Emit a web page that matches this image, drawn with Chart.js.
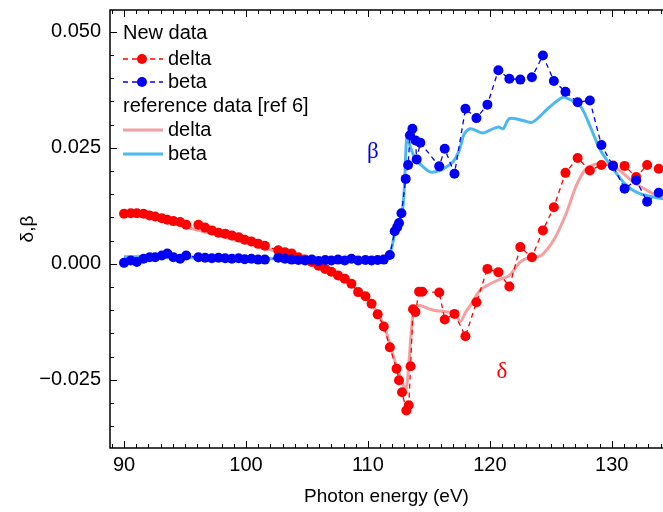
<!DOCTYPE html>
<html>
<head>
<meta charset="utf-8">
<script src="https://cdn.jsdelivr.net/npm/chart.js@4.4.1/dist/chart.umd.min.js"></script>
<style>
  html, body { margin: 0; padding: 0; background: #fff; }
</style>
</head>
<body>
<canvas id="myChart" width="663" height="512"></canvas>
<script>
// new data - delta
const eDeltaNew = [90.0, 90.55, 91.05, 91.6, 92.1, 92.55, 93.1, 93.55, 94.05, 94.6, 95.1,
  96.1, 96.65, 97.2, 97.75, 98.3, 98.85, 99.4, 99.9, 100.45, 101.0, 101.55,
  102.65, 103.2, 103.75, 104.3, 104.85, 105.4, 105.95, 106.5, 107.0, 107.55, 108.1, 108.65, 109.2, 109.8,
  110.3, 110.8, 111.3, 111.8, 112.35, 112.55, 112.8, 113.15, 113.35, 113.5, 113.7, 113.9, 114.2, 114.45,
  115.85, 116.3, 117.1, 118.0, 118.9, 119.8, 120.7, 121.6, 122.5, 123.45, 124.35, 125.25, 126.2, 127.2,
  128.2, 129.15, 130.1, 131.05, 132.0, 132.9, 133.85];
const deltaNew = [0.0108, 0.0109, 0.0109, 0.0108, 0.0104, 0.0102, 0.0098, 0.0095, 0.0092, 0.0090, 0.0084,
  0.0084, 0.0078, 0.0072, 0.0067, 0.0065, 0.0061, 0.0057, 0.0052, 0.0048, 0.0043, 0.0039,
  0.0029, 0.0025, 0.0022, 0.0014, 0.0009, 0.0004, -0.0004, -0.0011, -0.0017, -0.0025, -0.0032, -0.0043, -0.0061, -0.0070,
  -0.0086, -0.0109, -0.0135, -0.0180, -0.0226, -0.0251, -0.0277, -0.0316, -0.0305, -0.0221, -0.0098, -0.0104, -0.0060, -0.0060,
  -0.0062, -0.0120, -0.0108, -0.0156, -0.0083, -0.0011, -0.0018, -0.0049, 0.0036, 0.0014, 0.0072, 0.0122, 0.0196, 0.0228,
  0.0201, 0.0213, 0.0212, 0.0211, 0.0187, 0.0213, 0.0205];

// new data - beta
const eBetaNew = [90.0, 90.55, 91.05, 91.6, 92.1, 92.55, 93.1, 93.55, 94.05, 94.6, 95.1,
  96.1, 96.65, 97.2, 97.75, 98.3, 98.85, 99.4, 99.9, 100.45, 101.0, 101.55,
  102.65, 103.2, 103.75, 104.3, 104.85, 105.4, 105.95, 106.5, 107.0, 107.55, 108.1, 108.65, 109.2, 109.8,
  110.3, 110.8, 111.3, 111.8, 112.2, 112.4, 112.55, 112.75, 113.1, 113.3, 113.45, 113.65, 113.9, 114.0, 114.3,
  115.85, 116.3, 117.1, 118.0, 118.9, 119.8, 120.7, 121.6, 122.5, 123.45, 124.35, 125.25, 126.2, 127.2,
  128.2, 129.15, 130.1, 131.05, 132.0, 132.9, 133.85];
const betaNew = [0.0002, 0.0007, 0.0004, 0.0011, 0.0014, 0.0014, 0.0018, 0.0022, 0.0014, 0.0011, 0.0018,
  0.0014, 0.0013, 0.0012, 0.0013, 0.0012, 0.0011, 0.0012, 0.0010, 0.0011, 0.0009, 0.0009,
  0.0013, 0.0011, 0.0009, 0.0008, 0.0007, 0.0009, 0.0006, 0.0008, 0.0007, 0.0009, 0.0007, 0.0011, 0.0007, 0.0008,
  0.0007, 0.0008, 0.0009, 0.0019, 0.0070, 0.0079, 0.0088, 0.0109, 0.0183, 0.0213, 0.0277, 0.0291, 0.0266, 0.0225, 0.0261,
  0.0210, 0.0248, 0.0194, 0.0334, 0.0314, 0.0343, 0.0417, 0.0399, 0.0397, 0.0402, 0.0449, 0.0394, 0.0371, 0.0348,
  0.0352, 0.0256, 0.0211, 0.0162, 0.0180, 0.0134, 0.0153];

// reference data [ref 6] - delta
const eDeltaRef = [90, 91, 92, 93, 94, 95, 96, 97, 98, 99, 100, 101, 102, 103, 104, 105, 106, 107, 108, 109,
  110, 110.5, 111, 111.5, 112, 112.5, 112.9, 113.15, 113.4, 113.7, 114.0, 114.3, 115.0, 115.6, 116.6, 117.1,
  117.6, 118.0, 118.4, 119.2, 119.9, 120.6, 121.6, 122.5, 123.3, 124.2, 125.3, 126.3, 127.1, 127.9, 129.0,
  130.4, 131.8, 133.1, 134.2];
const deltaRef = [0.0104, 0.0104, 0.0100, 0.0094, 0.0088, 0.0079, 0.0073, 0.0066, 0.0059, 0.0052, 0.0045, 0.0037,
  0.0030, 0.0022, 0.0013, 0.0004, -0.0007, -0.0019, -0.0034, -0.0053,
  -0.0078, -0.0094, -0.0115, -0.0147, -0.0192, -0.0232, -0.0262, -0.0268, -0.0200, -0.0110, -0.0092, -0.0090,
  -0.0097, -0.0101, -0.0104, -0.0108, -0.0124, -0.0105, -0.0090, -0.0057, -0.0045, -0.0036, -0.0025, 0.0004,
  0.0014, 0.0018, 0.0054, 0.0111, 0.0169, 0.0205, 0.0216, 0.0205, 0.0176, 0.0155, 0.0140];

// reference data [ref 6] - beta
const eBetaRef = [90, 92, 95, 100, 105, 110, 111.5, 111.9, 112.2, 112.8, 113.0, 113.2, 113.5, 113.9, 114.4,
  115.1, 115.9, 116.5, 117.0, 117.5, 117.9, 118.4, 119.4, 120.0, 120.7, 121.1, 121.6, 122.7, 123.5, 124.9,
  126.0, 126.4, 127.4, 128.2, 129.0, 130.1, 131.2, 132.3, 133.4, 134.2];
const betaRef = [0.0015, 0.0015, 0.0013, 0.0012, 0.0010, 0.0011, 0.0015, 0.0030, 0.0065, 0.0110, 0.0170, 0.0273,
  0.0250, 0.0225, 0.0212, 0.0198, 0.0201, 0.0210, 0.0220, 0.0245, 0.0280, 0.0291, 0.0282, 0.0288, 0.0295,
  0.0291, 0.0313, 0.0309, 0.0305, 0.0338, 0.0359, 0.0356, 0.0341, 0.0298, 0.0248, 0.0205, 0.0169, 0.0151,
  0.0144, 0.0140];

// tick labels
const xTicks = [90, 100, 110, 120, 130];
const yTicks = [-0.025, 0, 0.025, 0.05];

const RED = "#ff0000";
const BLUE = "#0000f5";
const PINK = "#f5a0a0";
const SKY = "#4cb8f2";
const FONT = '"Liberation Sans", Arial, sans-serif';

const pts = (xs, ys) => xs.map((v, i) => ({ x: v, y: ys[i] }));

const data = {
  datasets: [
    {
      label: "delta",
      data: pts(eDeltaNew, deltaNew),
      borderColor: RED,
      backgroundColor: RED,
      borderWidth: 1.3,
      borderDash: [5, 4],
      pointRadius: 5,
      pointBorderWidth: 0,
      order: 1,
    },
    {
      label: "beta",
      data: pts(eBetaNew, betaNew),
      borderColor: BLUE,
      backgroundColor: BLUE,
      borderWidth: 1.3,
      borderDash: [5, 4],
      pointRadius: 5,
      pointBorderWidth: 0,
      order: 0,
    },
    {
      label: "delta ref",
      data: pts(eDeltaRef, deltaRef),
      borderColor: PINK,
      borderWidth: 3,
      pointRadius: 0,
      tension: 0.3,
      order: 3,
    },
    {
      label: "beta ref",
      data: pts(eBetaRef, betaRef),
      borderColor: SKY,
      borderWidth: 3,
      pointRadius: 0,
      tension: 0.3,
      order: 2,
    },
  ],
};

// frame with inward ticks, legend and greek labels
const decor = {
  id: "decor",
  afterDatasetsDraw(chart) {
    const { ctx, chartArea: a, scales: { x, y } } = chart;
    ctx.save();
    ctx.strokeStyle = "#000";
    ctx.lineWidth = 1.5;
    ctx.beginPath();
    ctx.moveTo(a.right + 2, a.top);
    ctx.lineTo(a.left, a.top);
    ctx.lineTo(a.left, a.bottom);
    ctx.lineTo(a.right + 2, a.bottom);
    ctx.stroke();

    ctx.lineWidth = 1;
    ctx.beginPath();
    for (let v = 89; v <= 134; v++) {
      const px = Math.round(x.getPixelForValue(v)) + 0.5;
      const len = v % 10 === 0 ? 7 : 4;
      ctx.moveTo(px, a.bottom);
      ctx.lineTo(px, a.bottom - len);
      ctx.moveTo(px, a.top);
      ctx.lineTo(px, a.top + len);
    }
    for (let i = -7; i <= 10; i++) {
      const py = Math.round(y.getPixelForValue(i * 0.005)) + 0.5;
      const len = i % 5 === 0 ? 7 : 4;
      ctx.moveTo(a.left, py);
      ctx.lineTo(a.left + len, py);
    }
    ctx.stroke();

    // greek labels
    ctx.font = '23px "Liberation Serif", serif';
    ctx.textAlign = "center";
    ctx.textBaseline = "middle";
    ctx.fillStyle = BLUE;
    ctx.fillText("β", x.getPixelForValue(110.4), y.getPixelForValue(0.0241));
    ctx.fillStyle = RED;
    ctx.fillText("δ", x.getPixelForValue(121.0), y.getPixelForValue(-0.0233));

    // legend
    ctx.font = "20px " + FONT;
    ctx.textAlign = "left";
    ctx.fillStyle = "#000";
    const lx = 123, tx = 168;
    ctx.fillText("New data", lx, 33);
    ctx.fillText("delta", tx, 59);
    ctx.fillText("beta", tx, 82);
    ctx.fillText("reference data [ref 6]", lx, 106);
    ctx.fillText("delta", tx, 130);
    ctx.fillText("beta", tx, 154);

    const sample = (yy, color, dashed, dot) => {
      ctx.strokeStyle = color;
      ctx.lineWidth = dashed ? 1.3 : 3;
      ctx.setLineDash(dashed ? [5, 4] : []);
      ctx.beginPath();
      ctx.moveTo(lx, yy);
      ctx.lineTo(lx + 40, yy);
      ctx.stroke();
      ctx.setLineDash([]);
      if (dot) {
        ctx.fillStyle = color;
        ctx.beginPath();
        ctx.arc(lx + 19, yy, 5, 0, Math.PI * 2);
        ctx.fill();
      }
    };
    sample(59, RED, true, true);
    sample(82, BLUE, true, true);
    sample(130, PINK, false, false);
    sample(154, SKY, false, false);
    ctx.restore();
  },
};

const config = {
  type: "line",
  data: data,
  options: {
    responsive: false,
    animation: false,
    layout: { autoPadding: false, padding: { top: 10, right: 0, left: 0, bottom: 0 } },
    plugins: {
      legend: { display: false },
      tooltip: { enabled: false },
    },
    scales: {
      x: {
        type: "linear",
        min: 88.85,
        max: 134.2,
        grid: { display: false, drawTicks: false },
        border: { display: false },
        afterBuildTicks: (s) => { s.ticks = xTicks.map((v) => ({ value: v })); },
        afterFit: (s) => { s.height = 64; s.paddingLeft = 0; s.paddingRight = 0; },
        ticks: { color: "#000", font: { family: FONT, size: 20 }, padding: 5, maxRotation: 0 },
        title: {
          display: true,
          text: "Photon energy (eV)",
          color: "#000",
          font: { family: FONT, size: 19 },
          padding: { top: 0, bottom: 4 },
        },
      },
      y: {
        min: -0.0397,
        max: 0.0547,
        grid: { display: false, drawTicks: false },
        border: { display: false },
        afterBuildTicks: (s) => { s.ticks = yTicks.map((v) => ({ value: v })); },
        afterFit: (s) => { s.width = 110; s.paddingTop = 0; s.paddingBottom = 0; },
        ticks: {
          color: "#000",
          font: { family: FONT, size: 20 },
          padding: 9,
          callback: (v) => v.toFixed(3).replace("-", "\u2212"),
        },
        title: {
          display: true,
          text: "δ,β",
          color: "#000",
          font: { family: FONT, size: 19 },
          padding: { top: 16, bottom: 0 },
        },
      },
    },
  },
  plugins: [decor],
};

const myChart = new Chart(document.getElementById("myChart"), config);
</script>
</body>
</html>
